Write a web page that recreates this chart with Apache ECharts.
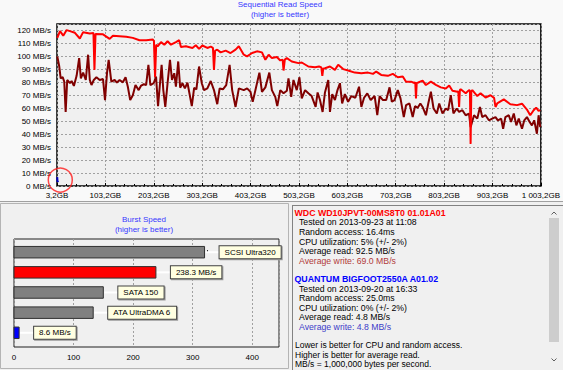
<!DOCTYPE html>
<html><head><meta charset="utf-8">
<script src="https://cdn.jsdelivr.net/npm/echarts@6/dist/echarts.min.js"></script>
<style>html,body{margin:0;padding:0;background:#f0f0f0;}#c{width:563px;height:370px;}</style>
</head><body><div id="c"></div>
<script>
// ---- Sequential read chart data (position in GB, speed in MB/s) ----
const readPos = [3.8,9.4,16.1,23.1,29.9,40.2,50.4,57.2,71,78.5,80.6,82.8,98.3,112,118.8,146.3,159.9,173.6,187.4,201,203.5,205.9,208.2,211.2,218.2,225,231.7,238.7,249,255.8,259.3,269.5,283.1,290.1,296.8,303.6,313.9,320.9,325.5,327.6,330,334.4,341.4,351.7,361.9,372.2,379,389.2,396,406.3,416.5,426.8,433.8,440.6,447.3,457.6,464.6,469.5,471.4,474,478.2,488.4,502.2,509,522.7,536.5,544.7,549.5,551.5,553.5,557,567.3,577.6,584.3,594.6,604.8,618.6,632.2,645.9,656.2,662.9,673.2,687,697.2,707.5,717.8,724.6,734.8,741.8,743.6,745.1,746.6,748.6,758.8,765.6,775.9,786.2,796.4,806.7,813.7,820.5,830.7,832.6,834.2,835.8,837.5,847.8,854.7,856.6,858,859.4,861.5,871.8,878.6,888.8,899.1,906.5,909.4,912.9,926.6,940.2,953.9,964.2,974.4,981.2,988.2,993.5,998.5,1001.8];
const readVal = [114.3,119.5,116,120.3,119.5,118.2,113.8,118.7,117.7,118,89.6,117.2,117,113.5,116,115.1,114.3,112.5,112.5,113,112,84,109,107.8,111,109,111.7,109,111,112.5,107.3,107.8,106.5,108.6,105.8,108.4,106.5,107.5,106.5,89.6,104.5,105.2,103.1,104.5,102.6,105.2,107.8,101.3,100,102.6,103.9,103.1,97.4,101.3,98.7,99.5,96.9,97.5,89.1,97.5,98.7,96.1,94.8,95.3,92.2,91.7,92.2,91.5,85,90.5,90.9,92.2,89.6,93.5,90.2,89.1,87.5,87,87.5,86.5,88.3,85.7,85,86.5,83.9,84.5,80.5,80.5,79.5,80,67.6,79.5,79.7,81.3,77.9,80.5,78,76.1,75.3,77.5,73.5,72.7,73,61,74,74.6,71.5,74,73.5,32.5,73,74,69.4,71.5,68.3,70,68,61,63.7,66.8,63.1,62.4,63.5,59,54.6,58.5,60.5,57.9,58.5];
const writePos = [3.8,7.9,10.8,14.9,18.2,21.1,24.3,29.9,33.4,38.1,43.7,49,52.5,57.2,62.7,67.5,71,74.5,79.2,84.7,91.5,98.3,102.4,106.5,110,115.5,122.3,127,132.6,139.3,144.9,149.6,154.5,159.9,165.4,172,177.1,182.5,187.4,192.1,196.2,203,207.9,212,216.1,219.4,222.9,227,231.7,236.7,240.8,245.5,249,253.7,257.8,262.5,267.5,272.8,276.3,281.8,286.6,291.3,296.8,302.4,307.1,313.9,320.9,327.6,334.4,339.3,346.1,352.9,359.9,365.2,372.2,379,389.2,396,403,407.7,413.3,421.5,426.8,433.8,442,447.3,454.3,458.4,464.6,471.4,478.2,481.6,487.2,491.9,498.7,504.2,509,515.9,522.7,529.5,537.7,541.8,546.7,552.1,557,563.8,567.3,572,577.6,582.9,587.9,592.5,598.1,604.8,611.6,619.8,627.4,632.2,637.8,644.5,651.5,659.7,665.1,670,676.8,683.5,690.5,695.2,700.8,707.5,713.1,719.9,724.6,731.6,738.3,743.1,748.6,754.1,758.8,765.6,770.5,775.9,781.4,788.2,793.1,799.9,806.7,811.6,817,822.5,829.3,834.2,841,847.8,854.7,858,865,871.8,877.3,882,888.8,895.8,902.6,909.4,914.3,921.1,925.2,929.9,936.9,941.6,947.2,952.5,957.5,964.2,968.9,974.4,980,984.7,989.4,995,998.5,1001.8];
const writeVal = [100,92.2,83.1,84,80.5,57.1,81.8,79.3,81,77.2,85,98.7,83.1,87.5,81.8,101.3,81.8,77.9,81.8,83.9,81.8,82.5,66.3,87,97.4,80.5,81.8,79.8,81.8,80,83.9,76.6,66.3,70,77.9,74,77.5,78.5,77.9,93.5,77.9,79.3,84.4,61.6,79.3,93.5,74,61,79.3,97.4,81.8,87,76.6,96.1,75.8,79.3,75.3,79.7,72.7,61.6,75.8,74.6,92.2,79.3,74,75.3,81,74,63.1,75.3,74.6,77.9,93.5,74,61,75.3,74,75.3,72.7,64.9,74,87.5,72.7,76.1,87.5,74,68.8,61.6,74,71.5,73.5,83.1,68.8,81.8,74,83.9,67.6,74,71.5,69.4,61,72.2,66.3,57.1,72.2,81.8,57.1,70.9,66.3,74,79.3,63.7,70.9,65,69.4,68.1,76.6,61,68.1,71.5,66.3,69.4,54.6,69.4,66.3,66.3,76.1,65,66.3,74,67.6,53.2,62.4,63.7,53.2,61.6,60.3,63.7,61,54.6,63.7,72.7,59.8,55.9,63.7,55.9,59.8,58.5,70.1,56,59.8,57.2,58.5,54.6,55.9,45.4,54.6,52,61,53.2,54.6,50.7,52,53.2,50.7,52,44.2,53.2,54.6,49.4,55.9,46.8,52,44.2,50.7,53.2,49.4,46.8,50.7,40.3,54.6,45.4];
const quantumPos = [3.6,4.4,5.4];
const quantumVal = [6.8,3.2,4.2];
const highlightPoint = [10, 4.6];

// ---- Burst speed data ----
const burstNames = ['SCSI Ultra320','WDC WD10JPVT-00MS8T0','SATA 150','ATA UltraDMA 6','QUANTUM BIGFOOT2550A'];
const burstVals = [320, 238.3, 150, 133, 8.6];
const burstLabels = ['SCSI Ultra320','238.3 MB/s','SATA 150','ATA UltraDMA 6','8.6 MB/s'];

// ---- Info panel text ----
const drive1Title = 'WDC WD10JPVT-00MS8T0 01.01A01';
const drive1Lines = ['Tested on 2013-09-23 at 11:08','Random access: 16.4ms','CPU utilization: 5% (+/- 2%)','Average read: 92.5 MB/s','Average write: 69.0 MB/s'];
const drive2Title = 'QUANTUM BIGFOOT2550A A01.02';
const drive2Lines = ['Tested on 2013-09-20 at 16:33','Random access: 25.0ms','CPU utilization: 0% (+/- 2%)','Average read: 4.8 MB/s','Average write: 4.8 MB/s'];
const noteLines = ['Lower is better for CPU and random access.','Higher is better for average read.','MB/s = 1,000,000 bytes per second.'];

// ---- styles ----
const F = '"Liberation Sans", Arial, sans-serif';
const burstColors = ['#808080','#ff0000','#808080','#808080','#0000ff'];
const zip = (a,b)=>a.map((v,i)=>[v,b[i]]);
const fmtGB = v => { const s = v.toFixed(1).split('.'); return s[0].replace(/\B(?=(\d{3})+(?!\d))/g,' ') + ',' + s[1] + 'GB'; };

const chart = echarts.init(document.getElementById('c'), null, {renderer:'svg'});

const txt = (x, y, text, color, font, align) => ({type:'text', x:x, y:y, z:50, silent:true,
  style:{text:text, fill:color, font:font, textAlign:align||'left', textVerticalAlign:'middle'}});

const graphics = [
  {type:'rect', z:-20, shape:{x:0,y:0,width:563,height:201}, style:{fill:'#f9f9f9'}},
  {type:'line', z:-19, shape:{x1:0,y1:201.5,x2:563,y2:201.5}, style:{stroke:'#a0a0a0',lineWidth:1}},
  {type:'rect', z:-19, shape:{x:0.5,y:203.5,width:288,height:165}, style:{fill:'#f0f0f0',stroke:'#b4b4b4',lineWidth:1}},
  {type:'rect', z:-19, shape:{x:292,y:205,width:271,height:165}, style:{fill:'#f0f0f0'}},
  {type:'line', z:-18, shape:{x1:292,y1:205.5,x2:563,y2:205.5}, style:{stroke:'#828282',lineWidth:1}},
  {type:'line', z:-18, shape:{x1:292.5,y1:205.5,x2:292.5,y2:370}, style:{stroke:'#828282',lineWidth:1}},
  {type:'rect', z:-17, shape:{x:547,y:206,width:16,height:164}, style:{fill:'#f0f0f0'}},
  {type:'rect', z:-16, shape:{x:549,y:218,width:10,height:124}, style:{fill:'#cdcdcd'}},
  {type:'polyline', z:-16, shape:{points:[[551.5,214.5],[554,212],[556.5,214.5]]}, style:{stroke:'#606060',lineWidth:1,fill:null}},
  {type:'polyline', z:-16, shape:{points:[[551.5,358.5],[554,361],[556.5,358.5]]}, style:{stroke:'#606060',lineWidth:1,fill:null}},
  txt(280, 4.5, 'Sequential Read Speed', '#3838ff', '8px '+F, 'center'),
  txt(280, 14.5, '(higher is better)', '#3838ff', '8px '+F, 'center'),
  txt(144, 219.5, 'Burst Speed', '#3838ff', '8px '+F, 'center'),
  txt(144, 229.5, '(higher is better)', '#3838ff', '8px '+F, 'center'),
  txt(294.5, 212.5, drive1Title, '#ff0000', 'bold 8.8px '+F),
  txt(294.5, 279, drive2Title, '#0000ff', 'bold 8.8px '+F)
];
drive1Lines.forEach((t,i)=>graphics.push(txt(299, 222.2 + i*9.7, t, i===4 ? '#b03a3a' : '#000000', '8.7px '+F)));
drive2Lines.forEach((t,i)=>graphics.push(txt(299, 288.6 + i*9.6, t, i===4 ? '#3c3cc8' : '#000000', '8.7px '+F)));
noteLines.forEach((t,i)=>graphics.push(txt(295, 345.3 + i*9.5, t, '#000000', '8.5px '+F)));

const option = {
  animation: false,
  backgroundColor: '#f0f0f0',
  graphic: graphics,
  grid: [
    {left:57, top:24, width:487, height:162, show:true, backgroundColor:'#f0f0f0', borderColor:'#000', borderWidth:1.5},
    {left:14, top:239, width:265, height:108, show:true, backgroundColor:'#f0f0f0', borderColor:'#202020', borderWidth:1}
  ],
  xAxis: [
    {gridIndex:0, type:'value', min:3.2, max:1003.2, interval:100,
     axisLine:{show:false},
     axisTick:{show:true, inside:true, length:3, lineStyle:{color:'#000'}},
     minorTick:{show:true, splitNumber:5, length:2, lineStyle:{color:'#000'}},
     axisLabel:{formatter:fmtGB, color:'#000', fontSize:8, fontFamily:F, margin:5, showMinLabel:true, showMaxLabel:true},
     splitLine:{show:true, lineStyle:{color:'#a0a0a0', type:[2,2]}}},
    {gridIndex:1, type:'value', min:0, max:445, interval:100,
     axisLine:{show:false},
     axisTick:{show:true, inside:true, length:3, lineStyle:{color:'#000'}},
     minorTick:{show:true, splitNumber:4, length:2, lineStyle:{color:'#000'}},
     axisLabel:{color:'#000', fontSize:8, fontFamily:F, margin:6, showMaxLabel:false},
     splitLine:{show:true, lineStyle:{color:'#a0a0a0', type:[2,2]}}}
  ],
  yAxis: [
    {gridIndex:0, type:'value', min:0, max:125, interval:10,
     axisLine:{show:false}, axisTick:{show:false},
     axisLabel:{formatter:v=>v+' MB/s', color:'#000', fontSize:8, fontFamily:F, margin:6, showMaxLabel:false},
     splitLine:{show:true, lineStyle:{color:'#a0a0a0', type:[2,2]}}},
    {gridIndex:1, type:'value', inverse:true, min:-0.655, max:4.705, show:false, splitLine:{show:false}}
  ],
  series: [
    {type:'line', xAxisIndex:0, yAxisIndex:0, data:zip(writePos, writeVal), showSymbol:false, symbol:'none',
     lineStyle:{color:'#800000', width:2}, z:3},
    {type:'line', xAxisIndex:0, yAxisIndex:0, data:zip(readPos, readVal), showSymbol:false, symbol:'none',
     lineStyle:{color:'#ff0000', width:2}, z:4},
    {type:'line', xAxisIndex:0, yAxisIndex:0, data:zip(quantumPos, quantumVal), showSymbol:false, symbol:'none',
     lineStyle:{color:'#0000c0', width:2}, z:5},
    {type:'scatter', xAxisIndex:0, yAxisIndex:0, data:[highlightPoint], symbol:'circle', symbolSize:24, clip:false, silent:true,
     itemStyle:{color:'rgba(0,0,0,0)', borderColor:'#ff1a1a', borderWidth:1.5}, z:10},
    {type:'custom', xAxisIndex:1, yAxisIndex:1, clip:false,
     data: burstVals.map((v,i)=>[v,i]),
     encode:{x:0, y:1},
     renderItem: function(params, api){
       const i = params.dataIndex;
       const v = api.value(0), idx = api.value(1);
       const s = api.coord([0, idx]), e = api.coord([v, idx]);
       const h = 11.5;
       return {type:'group', children:[
         {type:'rect', shape:{x:s[0], y:s[1]-h/2, width:e[0]-s[0], height:h},
          style:{fill:burstColors[i], stroke:'#303030', lineWidth:1}},
         {type:'line', shape:{x1:e[0]+1, y1:e[1], x2:e[0]+15, y2:e[1]}, style:{stroke:'#ffffff', lineWidth:2}},
         {type:'text', x:e[0]+15, y:e[1], style:{text:burstLabels[i], fill:'#000', font:'8px '+F,
           textAlign:'left', textVerticalAlign:'middle', backgroundColor:'#ffffe1', borderColor:'#404040', borderWidth:1,
           padding:[2,5,2,5], shadowColor:'#9a9a9a', shadowOffsetX:1, shadowOffsetY:1, shadowBlur:0}}
       ]};
     }, z:5}
  ]
};
chart.setOption(option);
</script>
</body></html>
